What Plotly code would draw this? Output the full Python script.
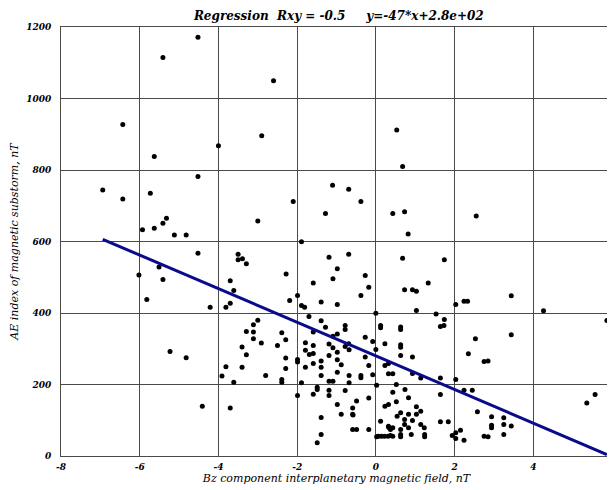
import plotly.graph_objects as go

# Bz component (nT) and AE index (nT)
bz = [
    -4.52, -5.41, -6.43, -4.00, -5.63, -4.52, -6.94, -5.73, -6.43, -5.32, -5.41, -5.63, -5.93,
    -2.60, -2.90, 0.53, 0.68, -1.10, -0.69, -2.10, -0.38, -1.28, 0.43, 0.73, -3.00,
    2.55,
    -5.12, -4.82, -4.52, -3.50, -3.39, -3.50, -3.29, -5.51, -6.02, -5.41, -3.70, -3.61, -5.82,
    -4.21, -3.81, -3.70, -3.29, -3.40, -3.29, -5.23, -4.82, -3.81, -3.40, -3.91, -3.61, -4.41, -3.70,
    0.82, -1.89, -1.19, -0.69, 0.68, 1.74, -0.98, -2.28, -0.27, -1.09, -1.59, 1.33, -0.18, 0.73,
    0.93, 1.03, -0.38, -1.99, -2.19, -1.39, -0.98, -1.89, -1.81, 1.03, 0.00, 1.53, -1.70, 1.74,
    -3.00, -1.39, 1.73, 1.64, -3.11, -1.28, -0.78, -0.78, 0.12, 0.12, 0.63, 0.63, -1.59, -3.11,
    -2.39, -0.98, -1.09, -0.27, -3.11, -2.29, -0.08, -1.79, -2.91, 0.23, -1.19, -0.69, -0.78,
    0.63, 0.63, -2.50, -1.59, -1.09, -1.79, 0.00, -0.68, -0.98, -1.69, -1.59, -1.19, -0.27, 0.63,
    0.93, -2.29, -1.99, -1.99, -1.39, -0.98, -1.59, -0.88, -0.18, 0.23, 0.32, -2.29, -1.39, -1.79,
    -0.98, -2.80, -1.39, -0.68, -0.38, -0.38, -0.08, 0.32, 0.43, 0.93, 1.14, 1.64, -2.39, -2.39,
    -1.19, -1.09, -1.89, -0.68, 0.02, 0.52, -1.49, -1.49, -1.19, -0.78, 0.74, -1.99, -1.59, -1.19,
    0.43, 1.64, -0.18, 0.83, -0.49, 0.52, -0.98, 0.23, 0.32, 1.03, -0.59, 1.14, -0.88, -0.59,
    0.63, 0.83, 1.03, -1.39, 0.12, 1.64, 1.84, -0.59, -0.49, -0.18, -1.39,
    -1.49, -0.58, 0.02,
    0.06, 0.14, 0.22, 0.31, 0.37, 0.43, 0.63, 0.63, 0.90, 1.24, 1.24, 1.94, 2.03, 2.24, 2.75, 2.15,
    0.33, 0.37, 0.43, 0.54,
    0.73, 0.93, 0.32, 0.63, 0.73, 0.83, 1.14, 1.23,
    2.58, 2.24, 2.45, 2.03, 2.03, 2.24, 2.33, 2.53, 2.35, 2.75,
    3.44, 4.26, 5.87, 3.44, 2.85, 2.94, 2.94, 2.94, 3.25, 3.25, 3.44, 3.25, 2.85, 2.03, 5.36, 5.57,
]
ae = [
    1171, 1115, 927, 868, 838, 782, 744, 735, 719, 665, 651, 637, 633,
    1050, 896, 912, 810, 757, 746, 712, 712, 678, 678, 683, 657,
    671,
    618, 618, 567, 564, 552, 549, 538, 529, 506, 494, 490, 463, 438,
    416, 416, 427, 348, 305, 283, 292, 275, 250, 248, 224, 206, 139, 134,
    621, 599, 556, 564, 553, 549, 524, 509, 505, 496, 484, 484, 472, 465,
    465, 461, 449, 449, 435, 431, 424, 421, 416, 407, 399, 397, 390, 382,
    380, 378, 365, 362, 367, 360, 365, 354, 365, 359, 361, 354, 347, 347,
    345, 341, 335, 332, 328, 325, 320, 317, 316, 314, 313, 314, 306,
    311, 304, 309, 309, 303, 296, 298, 297, 290, 284, 287, 281, 277, 281,
    277, 274, 270, 263, 266, 269, 259, 255, 253, 253, 259, 245, 248, 248,
    234, 225, 225, 225, 225, 219, 227, 230, 230, 231, 218, 218, 214, 206,
    209, 209, 205, 205, 198, 200, 192, 186, 184, 183, 186, 169, 173, 169,
    178, 172, 162, 163, 154, 152, 144, 139, 144, 138, 134, 125, 117, 117,
    121, 117, 117, 108, 97, 96, 96, 74, 74, 74, 60,
    37, 115, 54,
    55, 55, 55, 55, 57, 55, 60, 54, 60, 60, 54, 57, 65, 44, 55, 72,
    80, 74, 79, 111,
    102, 99, 83, 74, 88, 79, 88, 79,
    124, 184, 184, 214, 424, 433, 433, 328, 286, 264,
    448, 406, 379, 339, 266, 110, 86, 79, 107, 88, 84, 60, 54, 49, 148, 172,
]

# regression parameters from the title
slope = -47
intercept = 280
rxy = -0.5

x_ticks = [-8, -6, -4, -2, 0, 2, 4, 6]
y_ticks = [0, 200, 400, 600, 800, 1000, 1200]

line_x = [min(bz), max(bz)]
line_y = [slope * v + intercept for v in line_x]

serif = "DejaVu Serif"
tick_font = dict(family=serif, size=9, color="black", style="italic", weight="bold")
title_font = dict(family=serif, size=11, color="black", style="italic")

fig = go.Figure()
fig.add_trace(go.Scatter(
    x=bz, y=ae, mode="markers",
    marker=dict(color="black", size=5, line=dict(width=0)),
    showlegend=False, cliponaxis=False,
))
fig.add_trace(go.Scatter(
    x=line_x, y=line_y, mode="lines",
    line=dict(color="#0a0a8c", width=3),
    showlegend=False,
))

nb = "\u00a0"
title_text = f"Regression{nb*2}Rxy = {rxy}{nb*5}y={slope}*x+2.8e+02"

# page body adds an 8px offset; the figure is sized to fill the rest of the window
W, H = 607, 482
fig.update_layout(
    width=W, height=H,
    margin=dict(l=53, r=3, t=19, b=34, autoexpand=False),
    paper_bgcolor="white", plot_bgcolor="white",
    title=dict(text=title_text, x=0.545, xanchor="center",
               yref="container", y=1 - 8 / H, yanchor="middle",
               font=dict(family=serif, size=12, color="black", style="italic", weight="bold")),
    xaxis=dict(
        range=[-8, 6], tickvals=x_ticks, ticktext=[str(v) for v in x_ticks],
        showgrid=True, gridcolor="#4a4a4a", gridwidth=1, zeroline=False,
        showline=True, linecolor="#4a4a4a", linewidth=1, mirror=True,
        ticks="", tickfont=tick_font, ticklabelstandoff=2, ticklabeloverflow="allow",
        automargin=False,
        title=dict(text="Bz component interplanetary magnetic field, nT", font=title_font, standoff=2),
    ),
    yaxis=dict(
        range=[0, 1200], tickvals=y_ticks, ticktext=[str(v) for v in y_ticks],
        showgrid=True, gridcolor="#4a4a4a", gridwidth=1, zeroline=False,
        showline=True, linecolor="#4a4a4a", linewidth=1, mirror=True,
        ticks="", tickfont=tick_font, ticklabelstandoff=7,
        title=dict(text="AE index of magnetic substorm, nT", font=title_font, standoff=5),
    ),
)

fig.write_html("out.html")
